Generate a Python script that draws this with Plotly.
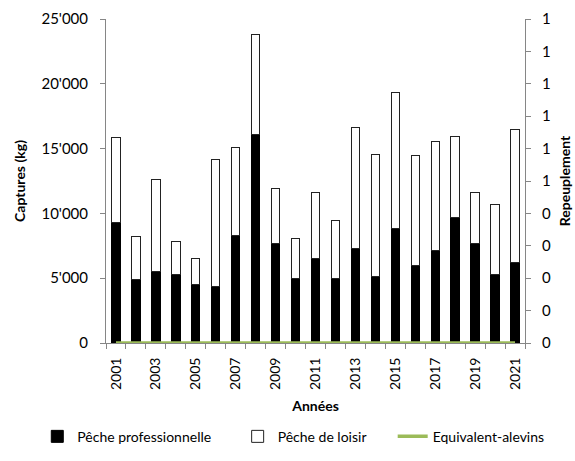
import plotly.graph_objects as go

years = list(range(2001, 2022))
peche_pro = [9300, 4900, 5500, 5300, 4500, 4350, 8300, 16050, 7650, 4950, 6500,
             4950, 7300, 5150, 8850, 6000, 7100, 9700, 7650, 5300, 6200]
total = [15850, 8250, 12600, 7800, 6500, 14150, 15100, 23800, 11900, 8100, 11600,
         9450, 16600, 14550, 19350, 14450, 15550, 15900, 11600, 10650, 16500]
peche_loisir = [t - p for t, p in zip(total, peche_pro)]
equivalent = [0, 0, 0, 0, 0, 0, 0, 0, 0, 0, 0, 0, 0, 0, 0, 0, 0, 0, 0, 0, 0]

y_ticks = [0, 5000, 10000, 15000, 20000, 25000]
y2_ticks = [0, 0.1, 0.2, 0.3, 0.4, 0.5, 0.6, 0.7, 0.8, 0.9, 1.0]
y2_labels = ["0", "0", "0", "0", "0", "1", "1", "1", "1", "1", "1"]
x_labels = [2001, 2003, 2005, 2007, 2009, 2011, 2013, 2015, 2017, 2019, 2021]
boundaries = [y - 0.5 for y in years] + [years[-1] + 0.5]

FONT = "Lato"
AX = "#868686"

fig = go.Figure()
fig.add_trace(go.Bar(x=years, y=peche_pro, name="Pêche professionnelle" + "\u00a0" * 6,
                     marker=dict(color="black", line=dict(color="black", width=1)),
                     width=0.42))
fig.add_trace(go.Bar(x=years, y=peche_loisir, name="Pêche de loisir" + "\u00a0" * 6,
                     marker=dict(color="white", line=dict(color="#222222", width=1)),
                     width=0.42))
fig.add_trace(go.Scatter(x=years, y=equivalent, name="Equivalent-alevins",
                         mode="lines", line=dict(color="#9BBB59", width=3.5),
                         yaxis="y2", cliponaxis=False))

fig.update_layout(
    width=575, height=461,
    barmode="stack",
    plot_bgcolor="white", paper_bgcolor="white",
    margin=dict(l=106, r=50, t=19, b=118, autoexpand=False),
    font=dict(family=FONT, size=15, color="black"),
    separators=".'",
    xaxis=dict(
        range=[2000.5, 2021.5], tickmode="array", tickvals=x_labels,
        ticks="", tickangle=-90, showline=True, linecolor=AX, linewidth=1,
        showgrid=False, zeroline=False, tickfont=dict(size=14),
        ticklabelstandoff=8, automargin=False,
        minor=dict(tickmode="array", tickvals=boundaries, ticks="outside",
                   ticklen=5, tickcolor=AX, showgrid=False),
        title=dict(text="<b>Années</b>", font=dict(size=14), standoff=12),
    ),
    yaxis=dict(
        range=[0, 25000], tickmode="array", tickvals=y_ticks, tickformat=",d",
        ticks="outside", ticklen=5, tickcolor=AX, showline=True, linecolor=AX,
        showgrid=False, zeroline=False, ticklabelstandoff=9, automargin=False,
        title=dict(text="<b>Captures (kg)</b>", font=dict(size=14), standoff=12),
    ),
    yaxis2=dict(
        overlaying="y", side="right", range=[0, 1], tickmode="array",
        tickvals=y2_ticks, ticktext=y2_labels, ticks="outside", ticklen=5,
        tickcolor=AX, showline=True, linecolor=AX, showgrid=False, zeroline=False,
        ticklabelstandoff=8, automargin=False,
        title=dict(text="<b>Repeuplement</b>", font=dict(size=14), standoff=10),
    ),
    legend=dict(orientation="h", x=-0.164, xanchor="left", y=-0.24, yanchor="top",
                xref="paper", font=dict(size=14), traceorder="normal"),
    showlegend=True,
)

fig.write_html("out.html", config={"displayModeBar": False},
               post_script="document.body.style.margin='0';")
